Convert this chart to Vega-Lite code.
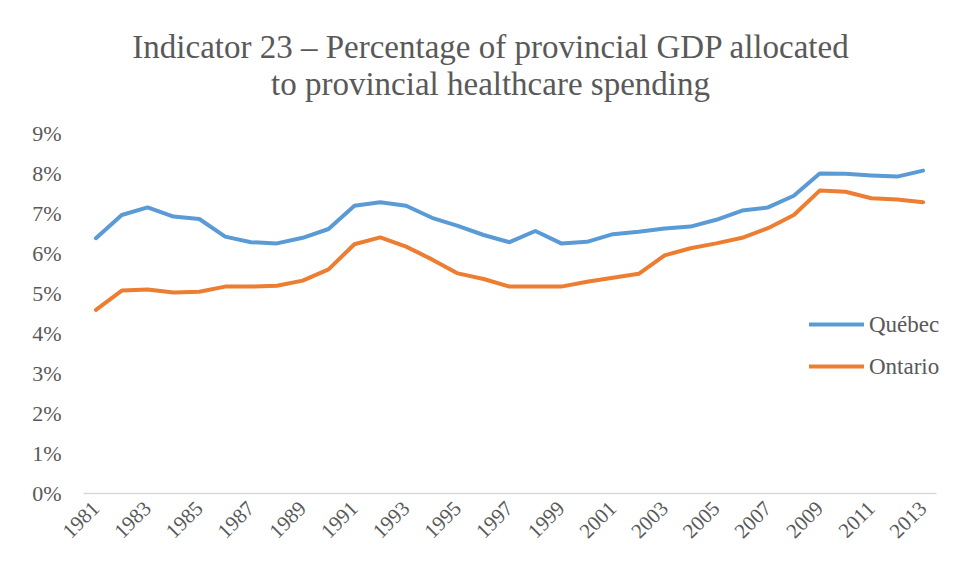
{
  "$schema": "https://vega.github.io/schema/vega-lite/v6.json",
  "width": 853,
  "height": 360,
  "autosize": {"type": "none"},
  "padding": {"left": 83, "top": 133, "right": 25, "bottom": 87},
  "background": "white",
  "config": {
    "view": {"stroke": null},
    "font": "Liberation Serif",
    "axis": {"labelFont": "Liberation Serif", "labelColor": "#595959", "labelFontSize": 22, "grid": false, "ticks": false, "title": null},
    "legend": {"labelFont": "Liberation Serif"}
  },
  "title": {
    "text": ["Indicator 23 – Percentage of provincial GDP allocated", "to provincial healthcare spending"],
    "font": "Liberation Serif",
    "fontSize": 33,
    "fontWeight": "normal",
    "color": "#595959",
    "lineHeight": 37,
    "anchor": "middle",
    "dx": -19,
    "offset": 20
  },
  "data": {
    "values": [
      {"year": 1981, "province": "Québec", "value": 6.37},
      {"year": 1982, "province": "Québec", "value": 6.95},
      {"year": 1983, "province": "Québec", "value": 7.14},
      {"year": 1984, "province": "Québec", "value": 6.91},
      {"year": 1985, "province": "Québec", "value": 6.85},
      {"year": 1986, "province": "Québec", "value": 6.41},
      {"year": 1987, "province": "Québec", "value": 6.27},
      {"year": 1988, "province": "Québec", "value": 6.24},
      {"year": 1989, "province": "Québec", "value": 6.38},
      {"year": 1990, "province": "Québec", "value": 6.6},
      {"year": 1991, "province": "Québec", "value": 7.18},
      {"year": 1992, "province": "Québec", "value": 7.27},
      {"year": 1993, "province": "Québec", "value": 7.18},
      {"year": 1994, "province": "Québec", "value": 6.88},
      {"year": 1995, "province": "Québec", "value": 6.68},
      {"year": 1996, "province": "Québec", "value": 6.45},
      {"year": 1997, "province": "Québec", "value": 6.27},
      {"year": 1998, "province": "Québec", "value": 6.55},
      {"year": 1999, "province": "Québec", "value": 6.24},
      {"year": 2000, "province": "Québec", "value": 6.28},
      {"year": 2001, "province": "Québec", "value": 6.47},
      {"year": 2002, "province": "Québec", "value": 6.53},
      {"year": 2003, "province": "Québec", "value": 6.61},
      {"year": 2004, "province": "Québec", "value": 6.66},
      {"year": 2005, "province": "Québec", "value": 6.83},
      {"year": 2006, "province": "Québec", "value": 7.06},
      {"year": 2007, "province": "Québec", "value": 7.14},
      {"year": 2008, "province": "Québec", "value": 7.43},
      {"year": 2009, "province": "Québec", "value": 7.99},
      {"year": 2010, "province": "Québec", "value": 7.98},
      {"year": 2011, "province": "Québec", "value": 7.94},
      {"year": 2012, "province": "Québec", "value": 7.91},
      {"year": 2013, "province": "Québec", "value": 8.06},
      {"year": 1981, "province": "Ontario", "value": 4.58},
      {"year": 1982, "province": "Ontario", "value": 5.06},
      {"year": 1983, "province": "Ontario", "value": 5.09},
      {"year": 1984, "province": "Ontario", "value": 5.01},
      {"year": 1985, "province": "Ontario", "value": 5.03},
      {"year": 1986, "province": "Ontario", "value": 5.16},
      {"year": 1987, "province": "Ontario", "value": 5.16},
      {"year": 1988, "province": "Ontario", "value": 5.18},
      {"year": 1989, "province": "Ontario", "value": 5.31},
      {"year": 1990, "province": "Ontario", "value": 5.59},
      {"year": 1991, "province": "Ontario", "value": 6.22},
      {"year": 1992, "province": "Ontario", "value": 6.39},
      {"year": 1993, "province": "Ontario", "value": 6.16},
      {"year": 1994, "province": "Ontario", "value": 5.84},
      {"year": 1995, "province": "Ontario", "value": 5.49},
      {"year": 1996, "province": "Ontario", "value": 5.35},
      {"year": 1997, "province": "Ontario", "value": 5.16},
      {"year": 1998, "province": "Ontario", "value": 5.16},
      {"year": 1999, "province": "Ontario", "value": 5.16},
      {"year": 2000, "province": "Ontario", "value": 5.28},
      {"year": 2001, "province": "Ontario", "value": 5.38},
      {"year": 2002, "province": "Ontario", "value": 5.48},
      {"year": 2003, "province": "Ontario", "value": 5.94},
      {"year": 2004, "province": "Ontario", "value": 6.12},
      {"year": 2005, "province": "Ontario", "value": 6.24},
      {"year": 2006, "province": "Ontario", "value": 6.38},
      {"year": 2007, "province": "Ontario", "value": 6.62},
      {"year": 2008, "province": "Ontario", "value": 6.95},
      {"year": 2009, "province": "Ontario", "value": 7.56},
      {"year": 2010, "province": "Ontario", "value": 7.53},
      {"year": 2011, "province": "Ontario", "value": 7.37},
      {"year": 2012, "province": "Ontario", "value": 7.34},
      {"year": 2013, "province": "Ontario", "value": 7.27}
    ]
  },
  "mark": {"type": "line", "strokeWidth": 4, "strokeCap": "round", "strokeJoin": "round"},
  "encoding": {
    "x": {
      "field": "year",
      "type": "ordinal",
      "scale": {"type": "point", "padding": 0.5},
      "axis": {
        "values": [1981, 1983, 1985, 1987, 1989, 1991, 1993, 1995, 1997, 1999, 2001, 2003, 2005, 2007, 2009, 2011, 2013],
        "labelAngle": -45,
        "labelAlign": "right",
        "labelBaseline": "middle",
        "labelFontSize": 21,
        "labelPadding": 12,
        "domainColor": "#d9d9d9",
        "domainWidth": 1.5
      }
    },
    "y": {
      "field": "value",
      "type": "quantitative",
      "scale": {"domain": [0, 9]},
      "axis": {
        "values": [0, 1, 2, 3, 4, 5, 6, 7, 8, 9],
        "labelExpr": "datum.value + '%'",
        "domain": false,
        "labelPadding": 22
      }
    },
    "color": {
      "field": "province",
      "type": "nominal",
      "scale": {"domain": ["Québec", "Ontario"], "range": ["#5B9BD5", "#ED7D31"]},
      "legend": {
        "title": null,
        "orient": "none",
        "legendX": 724,
        "legendY": 162,
        "symbolType": "stroke",
        "symbolSize": 3025,
        "symbolStrokeWidth": 4,
        "labelFontSize": 23,
        "labelColor": "#595959",
        "labelOffset": 3,
        "rowPadding": -13
      }
    }
  }
}
